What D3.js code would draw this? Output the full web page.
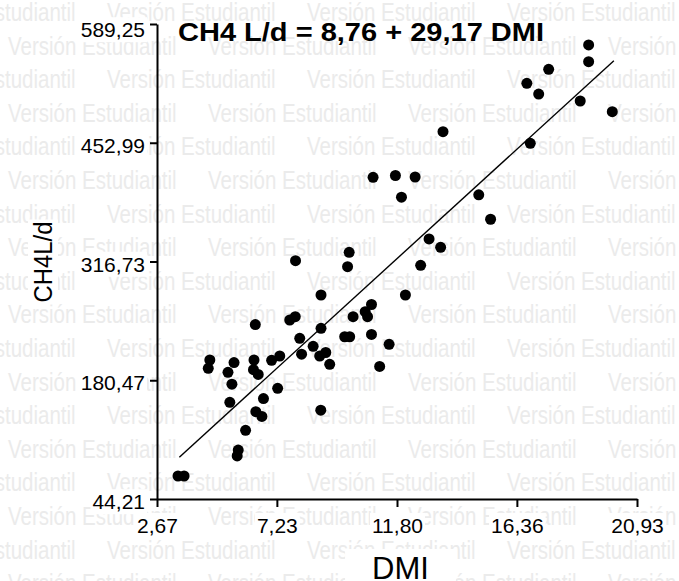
<!DOCTYPE html>
<html>
<head>
<meta charset="utf-8">
<script src="https://cdn.jsdelivr.net/npm/d3@7"></script>
<style>
  html, body { margin: 0; padding: 0; background: #fff; }
  svg { display: block; font-family: "Liberation Sans", Arial, sans-serif; }
</style>
</head>
<body>
<svg id="chart" width="679" height="581"></svg>
<script>
// values
const dmi = [3.47, 3.70, 5.76, 5.72, 6.04, 6.43, 6.66, 6.72, 7.26, 5.44,
  5.52, 8.90, 7.94, 9.98, 9.92, 8.91, 6.41, 7.72, 7.93, 8.10,
  8.91, 10.13, 10.59, 10.83, 10.68, 9.81, 10.00, 10.83, 11.50, 8.61,
  8.17, 8.86, 9.09, 9.24, 11.14, 4.68, 4.62, 5.60, 5.37, 6.36,
  6.34, 6.52, 7.03, 7.34, 19.09, 19.09, 17.57, 16.74, 17.19, 18.77,
  19.99, 13.55, 16.87, 10.89, 11.74, 12.49, 11.97, 14.91, 15.36, 13.02,
  13.46, 12.70, 12.12];
const ch4 = [70.6, 70.6, 100.4, 93.6, 123.0, 144.4, 138.9, 159.5, 171.2, 155.2,
  175.9, 146.1, 317.7, 327.3, 310.8, 278.3, 244.4, 249.6, 253.4, 228.6,
  240.1, 253.4, 259.1, 267.4, 253.4, 230.4, 230.4, 233.0, 221.7, 219.4,
  210.4, 208.3, 212.3, 198.8, 196.3, 203.7, 194.2, 200.8, 189.6, 203.7,
  192.6, 187.1, 203.4, 208.3, 565.2, 546.0, 537.3, 521.2, 508.9, 500.9,
  488.6, 465.7, 452.4, 413.3, 415.4, 413.7, 390.5, 393.3, 365.2, 342.6,
  333.0, 312.4, 278.3];
const fitDmi = [3.52, 20.05];
const fitCh4 = [92.1, 547.1];
const xTicks = [2.67, 7.23, 11.80, 16.36, 20.93];
const yTicks = [44.21, 180.47, 316.73, 452.99, 589.25];
const titleText = "CH4 L/d = 8,76 + 29,17 DMI";
const xTitle = "DMI";
const yTitle = "CH4L/d";
const watermark = "Versión Estudiantil";

const svg = d3.select("#chart");
const x = d3.scaleLinear().domain([xTicks[0], xTicks[xTicks.length - 1]]).range([157, 637]);
const y = d3.scaleLinear().domain([yTicks[0], yTicks[yTicks.length - 1]]).range([499, 24]);
const fmt = v => v.toFixed(2).replace(".", ",");

// background watermark rows
const wm = svg.append("g").attr("fill", "#ebebeb").style("font-size", "25px");
for (let r = 0; r < 18; r++) {
  const off = r % 2 ? 8 : -93;
  for (let c = 0; c < 5; c++) {
    wm.append("text")
      .attr("transform", `translate(${off + c * 200},${21 + r * 33.6}) scale(0.82,1)`)
      .text(watermark);
  }
}

// put a white box behind a text node
function whiteBox(textNode, padX, padY) {
  const b = textNode.getBBox();
  d3.select(textNode.parentNode).insert("rect", () => textNode)
    .attr("x", b.x - padX).attr("y", b.y - padY)
    .attr("width", b.width + padX * 2).attr("height", b.height + padY * 2)
    .attr("fill", "#fff");
}

// axes
const xAxis = svg.append("g")
  .attr("transform", "translate(0,499)")
  .call(d3.axisBottom(x).tickValues(xTicks).tickFormat(fmt).tickSize(8).tickSizeOuter(0).tickPadding(11));
const yAxis = svg.append("g")
  .attr("transform", "translate(157,0)")
  .call(d3.axisLeft(y).tickValues(yTicks).tickFormat(fmt).tickSize(7).tickSizeOuter(0).tickPadding(5));

[xAxis, yAxis].forEach(a => {
  a.select(".domain").attr("stroke", "#000").attr("stroke-width", 2);
  a.selectAll(".tick line").attr("stroke", "#000").attr("stroke-width", 2);
  a.selectAll(".tick text")
    .attr("fill", "#000")
    .style("font-family", "'Liberation Sans', Arial, sans-serif")
    .style("font-size", "21px");
});
yAxis.selectAll(".tick text").attr("y", d => d === yTicks[yTicks.length - 1] ? 6 : 3);
xAxis.selectAll(".tick text").each(function () { whiteBox(this, 2, 1); });
yAxis.selectAll(".tick text").each(function () { whiteBox(this, 2, 1); });

// regression line
svg.append("path")
  .datum(d3.zip(fitDmi, fitCh4))
  .attr("fill", "none")
  .attr("stroke", "#000")
  .attr("stroke-width", 1.4)
  .attr("d", d3.line().x(d => x(d[0])).y(d => y(d[1])));

// points
svg.append("g").selectAll("circle")
  .data(d3.zip(dmi, ch4))
  .enter()
  .append("circle")
  .attr("cx", d => x(d[0]))
  .attr("cy", d => y(d[1]))
  .attr("r", 5.5)
  .attr("fill", "#000");

// titles
svg.append("text")
  .attr("x", 178).attr("y", 41)
  .attr("textLength", 366).attr("lengthAdjust", "spacingAndGlyphs")
  .style("font-size", "25px").style("font-weight", "bold")
  .text(titleText);

const xt = svg.append("g");
const xtText = xt.append("text")
  .attr("x", 400.5).attr("y", 579)
  .attr("text-anchor", "middle")
  .style("font-size", "31px")
  .text(xTitle);
whiteBox(xtText.node(), 27, 2);

const yt = svg.append("g").attr("transform", "translate(52,262) rotate(-90)");
const ytText = yt.append("text")
  .attr("text-anchor", "middle")
  .attr("textLength", 81).attr("lengthAdjust", "spacingAndGlyphs")
  .style("font-size", "25px")
  .text(yTitle);
whiteBox(ytText.node(), 2, 1);
</script>
</body>
</html>
